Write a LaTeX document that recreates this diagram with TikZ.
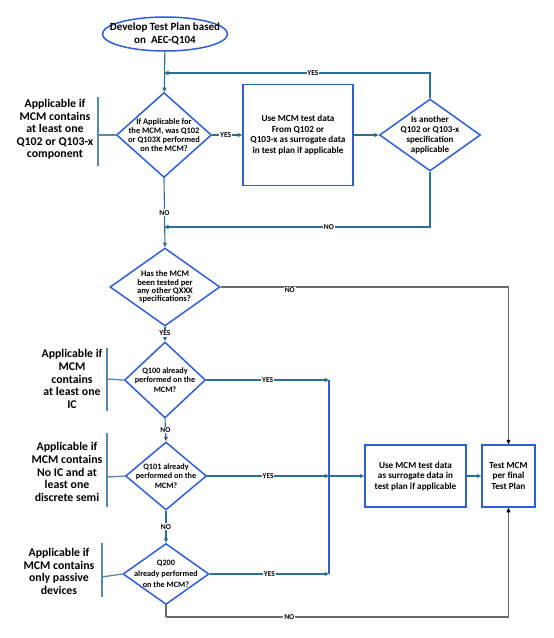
\documentclass[tikz,border=0pt]{standalone}
\usepackage{fontspec}
\setmainfont{Carlito}
\usetikzlibrary{shapes.geometric,arrows.meta}

\definecolor{boxblue}{HTML}{2F5FD0}
\definecolor{linkteal}{HTML}{2F6E8E}
\definecolor{brkteal}{HTML}{5A88A8}
\definecolor{nogray}{HTML}{6A6A6A}

\tikzset{
  dia/.style={diamond,draw=boxblue,line width=1.5pt,inner sep=0pt},
  blk/.style={rectangle,draw=boxblue,line width=1.5pt,inner sep=0pt},
  dtxt/.style={align=center,inner sep=0pt,font={\bfseries\fontsize{8.4}{8.8}\selectfont}},
  btxt/.style={align=center,inner sep=0pt,font={\bfseries\fontsize{9.2}{10.8}\selectfont}},
  note/.style={align=center,inner sep=0pt,font={\bfseries\fontsize{11.8}{12.6}\selectfont}},
  lbl/.style={fill=white,inner sep=0.8pt,font={\bfseries\fontsize{7.5}{8}\selectfont}},
  link/.style={draw=linkteal,line width=1.1pt,-{Triangle[length=4.5pt,width=4pt]}},
  nolink/.style={draw=nogray,line width=1.1pt,-{Triangle[length=4.5pt,width=4pt,color=black]}},
  brk/.style={draw=brkteal,line width=1.3pt}
}

\begin{document}
\begin{tikzpicture}[x=1pt,y=-1pt]
  \useasboundingbox (0,0) rectangle (554,638);

  % start
  \node[ellipse,draw=boxblue,line width=1.5pt,minimum width=125,minimum height=34] (start) at (165,34) {};
  \node[align=center,inner sep=0pt,font={\bfseries\fontsize{11}{12.8}\selectfont}] (startt) at (start) {Develop Test Plan based\\on~~AEC-Q104};

  % first loop
  \node[dia,minimum width=95,minimum height=85] (q1) at (164,135) {};
  \node[dtxt] (q1t) at (q1) {If Applicable for\\the MCM, was Q102\\or Q103X performed\\on the MCM?};
  \node[blk,minimum width=110,minimum height=101] (b1) at (298,135) {};
  \node[btxt] (b1t) at (b1) {Use MCM test data\\From Q102 or\\Q103-x as surrogate data\\in test plan if applicable};
  \node[dia,minimum width=101,minimum height=72] (q2) at (430,135) {};
  \node[btxt,font={\bfseries\fontsize{9}{10.2}\selectfont}] (q2t) at (q2) {Is another\\Q102 or Q103-x\\specification\\applicable};
  \coordinate (j1) at (164,73);
  \coordinate (j2) at (164,227);

  % other specs
  \node[dia,minimum width=110,minimum height=78] (q3) at (165,287) {};
  \node[dtxt,font={\bfseries\fontsize{8.5}{8.4}\selectfont}] (q3t) at (q3) {Has the MCM\\been tested per\\any other QXXX\\specifications?};
  \node[dia,minimum width=81,minimum height=76] (q4) at (165,380) {};
  \node[dtxt,font={\bfseries\fontsize{8.2}{9.5}\selectfont}] (q4t) at (q4) {Q100 already\\performed on the\\MCM?};
  \node[dia,minimum width=81,minimum height=68] (q5) at (166,476) {};
  \node[dtxt,font={\bfseries\fontsize{8.2}{9.5}\selectfont}] (q5t) at (q5) {Q101 already\\performed on the\\MCM?};
  \node[dia,minimum width=86,minimum height=61] (q6) at (166,574) {};
  \node[dtxt,font={\bfseries\fontsize{8.2}{11}\selectfont}] (q6t) at (q6) {Q200\\already performed\\on the MCM?};

  \coordinate (m1) at (329,380);
  \coordinate (m2) at (329,476);
  \coordinate (m3) at (329,574);
  \coordinate (nb) at (166,617);

  \node[blk,minimum width=101,minimum height=62] (b2) at (415.5,476) {};
  \node[btxt,font={\bfseries\fontsize{9.2}{10.5}\selectfont}] (b2t) at (b2) {Use MCM test data\\as surrogate data in\\test plan if applicable};
  \node[blk,minimum width=53,minimum height=62] (b3) at (508.5,476) {};
  \node[btxt,font={\bfseries\fontsize{9.2}{10.5}\selectfont}] (b3t) at (b3) {Test MCM\\per final\\Test Plan};

  % side notes
  \node[note] (n1) at (55,129.5) {Applicable if\\MCM contains\\at least one\\Q102 or Q103-x\\component};
  \draw[brk] (98,97) -- (98,166);
  \draw[brk] (98,135) -- (q1.west);
  \node[note] (n2) at (72,379) {Applicable if\\MCM\\contains\\at least one\\IC};
  \draw[brk] (107,348) -- (107,411);
  \draw[brk] (107,379) -- (q4.west);
  \node[note] (n3) at (67,472) {Applicable if\\MCM contains\\No IC and at\\least one\\discrete semi};
  \draw[brk] (107,433) -- (107,507);
  \draw[brk] (107,477) -- (q5.west);
  \node[note] (n4) at (59,571.5) {Applicable if\\MCM contains\\only passive\\devices};
  \draw[brk] (102,543) -- (102,597);
  \draw[brk] (102,577) -- (q6.west);

  % connectors
  \draw[link] (start) -- (q1);
  \draw[link] (q1.east) -- node[lbl,pos=0.45]{YES} (b1.west);
  \draw[link] (b1.east) -- (q2.west);
  \draw[link] (q2.north) |- node[lbl,pos=0.72]{YES} (j1);
  \draw[link] (q2.south) |- node[lbl,pos=0.69]{NO} (j2);
  \draw[link] (q1.south) -- node[lbl,pos=0.5]{NO} (q3.north);
  \draw[nolink] (q3.east) -| node[lbl,pos=0.12,yshift=-3]{NO} (b3.north);
  \draw[link] (q3.south) -- node[lbl,pos=0.45]{YES} (q4.north);
  \draw[link] (q4.south) -- node[lbl,pos=0.5]{NO} (q5.north);
  \draw[link] (q5.south) -- node[lbl,pos=0.5]{NO} (q6.north);
  \draw[link] (q4.east) -- node[lbl,pos=0.5]{YES} (m1);
  \draw[link] (q5.east) -- node[lbl,pos=0.5]{YES} (m2);
  \draw[link] (q6.east) -- node[lbl,pos=0.5]{YES} (m3);
  \draw[boxblue,line width=1.5pt] (m1) -- (m3);
  \draw[link] (m2) -- (b2.west);
  \draw[link] (b2.east) -- (b3.west);
  \draw[draw=nogray,line width=1.1pt] (q6.south) -- (nb);
  \draw[nolink] (nb) -| node[lbl,pos=0.18]{NO} (b3.south);
\end{tikzpicture}
\end{document}
